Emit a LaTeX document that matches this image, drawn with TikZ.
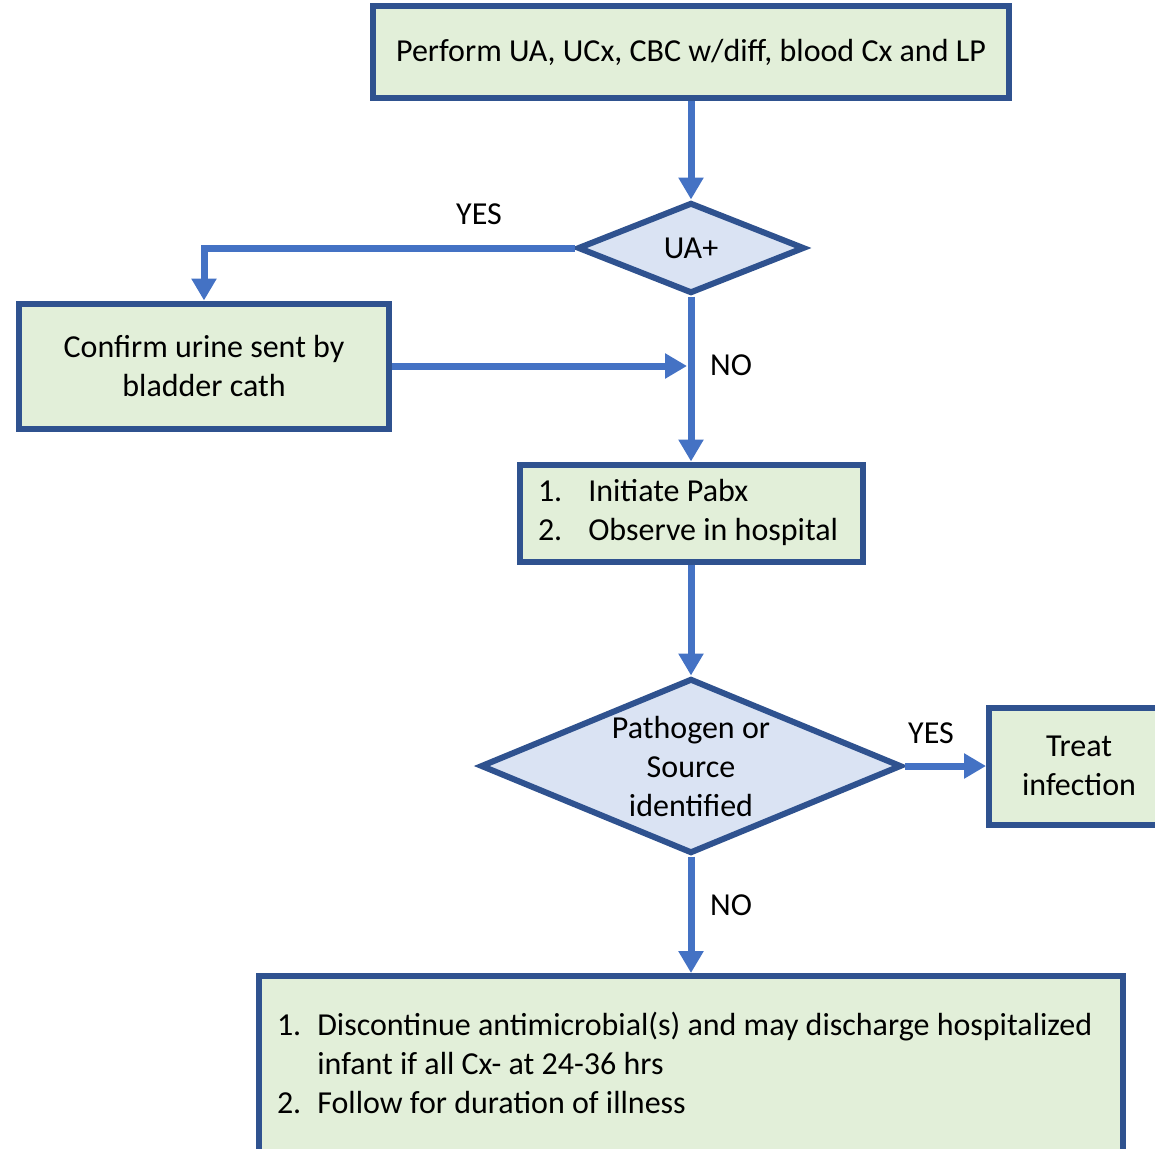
\documentclass[tikz,border=0pt]{standalone}
\usepackage{fontspec}
\setmainfont{Carlito}
\usepackage{tikz}
\usetikzlibrary{positioning,arrows.meta,shapes.geometric}
\usepackage{xcolor}
\definecolor{edgeblue}{HTML}{2F528F}
\definecolor{flowblue}{HTML}{4472C4}
\definecolor{boxgreen}{HTML}{E2EFD9}
\definecolor{decblue}{HTML}{DAE3F3}

\begin{document}
\begin{tikzpicture}[x=1pt, y=-1pt,
        font=\fontsize{32}{39}\selectfont,
        box/.style={draw=edgeblue, line width=6pt, fill=boxgreen, align=center, inner sep=0pt},
        decision/.style={diamond, draw=edgeblue, line width=6pt, fill=decblue, align=center, inner sep=0pt, aspect=2.4},
        flow/.style={draw=flowblue, line width=7pt, -{Triangle[width=24pt,length=22pt]}},
        lbl/.style={inner sep=0pt}]
        \useasboundingbox (0,0) rectangle (1155,1148);
        \clip (0,0) rectangle (1155,1148);

        % Steps
        \node[box, minimum width=636pt, minimum height=92pt] (tests) at (691,52) {Perform UA, UCx, CBC w/diff, blood Cx and LP};
        \node[decision, minimum width=227pt, minimum height=91pt] (ua) at (691,248) {UA+};
        \node[box, minimum width=370pt, minimum height=125pt] (cath) at (204,366) {Confirm urine sent by\\bladder cath};
        \node[box, minimum width=343pt, minimum height=97pt] (pabx) at (691,513) {\spaceskip=0pt\xspaceskip=0pt\makebox[306pt][l]{\begin{tabular}{@{}l@{\hspace{26pt}}l@{}}1.&Initiate Pabx\\2.&Observe in hospital\end{tabular}}};
        \node[decision, minimum width=421pt, minimum height=175pt] (src) at (691,766) {Pathogen or\\Source\\identified};
        \node[box, minimum width=180pt, minimum height=117pt] (treat) at (1079,766) {Treat\\infection};
        \node[box, minimum width=864pt, minimum height=182pt] (stop) at (691,1067) {\spaceskip=0pt\xspaceskip=0pt\makebox[828pt][l]{\begin{tabular}{@{}l@{\hspace{16pt}}l@{}}1.&Discontinue antimicrobial(s) and may discharge hospitalized\\&infant if all Cx- at 24-36 hrs\\2.&Follow for duration of illness\end{tabular}}};

        % Labels
        \node[lbl] (yes1) at (479,214) {YES};
        \node[lbl] (no1) at (731,365) {NO};
        \node[lbl] (yes2) at (931,733) {YES};
        \node[lbl] (no2) at (731,905) {NO};

        % Arrows
        \coordinate (merge) at (687,366);
        \draw[flow] (tests) -- (ua);
        \draw[flow] (ua.west) -| (cath);
        \draw[flow] (cath) -- (merge);
        \draw[flow] (ua) -- (pabx);
        \draw[flow] (pabx) -- (src);
        \draw[flow] (src) -- (treat);
        \draw[flow] (src) -- (stop);
    \end{tikzpicture}
\end{document}
